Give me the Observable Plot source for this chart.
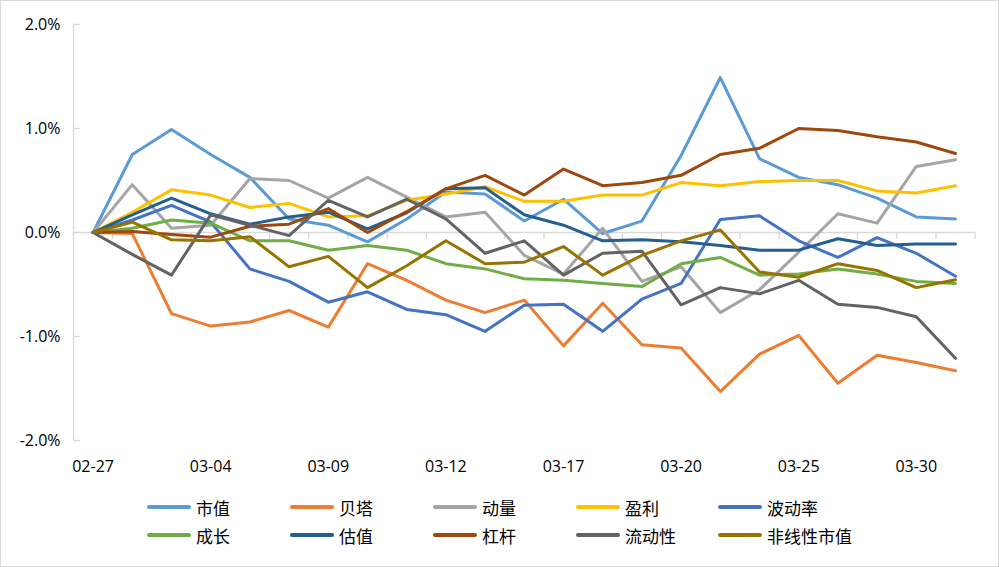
<!DOCTYPE html>
<html>
<head>
<meta charset="utf-8">
<script src="https://cdn.jsdelivr.net/npm/d3@7"></script>
<script src="https://cdn.jsdelivr.net/npm/@observablehq/plot@0.6"></script>
<style>
  html, body { margin: 0; padding: 0; background: #fff; }
  #wrap { position: relative; width: 999px; height: 567px; overflow: hidden; font-family: "Open Sans", "Noto Sans CJK SC", sans-serif; }
  #frame { position: absolute; left: 0; top: 0; width: 999px; height: 567px; box-sizing: border-box; border: 1px solid #D9D9D9; pointer-events: none; }
  #chart { position: absolute; left: 0; top: 0; }
  .item { position: absolute; display: flex; align-items: center; font-size: 17px; color: #000; font-family: "Noto Sans CJK SC", sans-serif; white-space: nowrap; }
  .sw { width: 44px; height: 4px; border-radius: 2px; margin-right: 5px; }
</style>
</head>
<body>
<div id="wrap"><div id="chart"></div><div id="legend"></div><div id="frame"></div></div>
<script>
const dates = ["02-27","03-02","03-03","03-04","03-05","03-06","03-09","03-10","03-11","03-12","03-13","03-16","03-17","03-18","03-19","03-20","03-23","03-24","03-25","03-26","03-27","03-30","03-31"];
const labelIdx = [0, 3, 6, 9, 12, 15, 18, 21];
const yTicks = [-0.02, -0.01, 0, 0.01, 0.02];
const names = ["市值","贝塔","动量","盈利","波动率","成长","估值","杠杆","流动性","非线性市值"];
const colors = ["#5B9BD5","#ED7D31","#A5A5A5","#FFC000","#4472C4","#70AD47","#255E91","#9E480E","#636363","#997300"];

// values in percent
const shizhi     = [0, 0.75, 0.99, 0.75, 0.53, 0.13, 0.07, -0.09, 0.13, 0.39, 0.37, 0.11, 0.32, -0.01, 0.11, 0.74, 1.49, 0.71, 0.53, 0.46, 0.33, 0.15, 0.13];
const beta       = [0, -0.01, -0.78, -0.90, -0.86, -0.75, -0.91, -0.30, -0.46, -0.65, -0.77, -0.65, -1.09, -0.68, -1.08, -1.11, -1.53, -1.17, -0.99, -1.45, -1.18, -1.25, -1.33];
const dongliang  = [0, 0.46, 0.04, 0.07, 0.52, 0.50, 0.33, 0.53, 0.34, 0.15, 0.195, -0.22, -0.40, 0.04, -0.47, -0.33, -0.77, -0.55, -0.19, 0.18, 0.09, 0.635, 0.70];
const yingli     = [0, 0.195, 0.41, 0.36, 0.24, 0.28, 0.15, 0.16, 0.31, 0.37, 0.44, 0.30, 0.30, 0.36, 0.36, 0.48, 0.45, 0.49, 0.50, 0.50, 0.40, 0.38, 0.45];
const bodonglv   = [0, 0.12, 0.26, 0.10, -0.35, -0.47, -0.67, -0.57, -0.74, -0.79, -0.95, -0.70, -0.69, -0.95, -0.64, -0.49, 0.125, 0.16, -0.08, -0.24, -0.05, -0.20, -0.42];
const chengzhang = [0, 0.04, 0.12, 0.09, -0.08, -0.08, -0.17, -0.125, -0.17, -0.30, -0.35, -0.445, -0.46, -0.49, -0.52, -0.30, -0.24, -0.41, -0.40, -0.35, -0.40, -0.47, -0.49];
const guzhi      = [0, 0.17, 0.33, 0.18, 0.08, 0.15, 0.195, 0.035, 0.19, 0.42, 0.43, 0.17, 0.07, -0.08, -0.07, -0.09, -0.125, -0.17, -0.17, -0.06, -0.125, -0.11, -0.11];
const gangan     = [0, 0.01, -0.02, -0.045, 0.06, 0.08, 0.23, 0.0, 0.20, 0.42, 0.55, 0.36, 0.61, 0.45, 0.48, 0.55, 0.75, 0.81, 1.00, 0.98, 0.92, 0.87, 0.76];
const liudong    = [0, -0.21, -0.41, 0.17, 0.07, -0.03, 0.31, 0.15, 0.32, 0.13, -0.20, -0.08, -0.41, -0.20, -0.18, -0.695, -0.53, -0.59, -0.46, -0.69, -0.72, -0.81, -1.21];
const feixian    = [0, 0.10, -0.07, -0.08, -0.04, -0.33, -0.23, -0.53, -0.32, -0.08, -0.30, -0.285, -0.135, -0.41, -0.22, -0.08, 0.025, -0.38, -0.43, -0.30, -0.365, -0.53, -0.455];

const seriesValues = [shizhi, beta, dongliang, yingli, bodonglv, chengzhang, guzhi, gangan, liudong, feixian];

const data = [];
seriesValues.forEach((vals, s) => vals.forEach((v, i) => data.push({i, name: names[s], v: v / 100})));
const bounds = d3.range(dates.length + 1).map(k => k - 0.5);

const W = 999, H = 490, ML = 73, MR = 24.4;
const plot = Plot.plot({
  width: W, height: H,
  marginLeft: ML, marginRight: MR, marginTop: 24, marginBottom: 50,
  x: {type: "linear", domain: [-0.5, dates.length - 0.5]},
  y: {domain: [-0.02, 0.02]},
  color: {domain: names, range: colors},
  style: {fontFamily: '"Open Sans", "Noto Sans CJK SC", sans-serif', fontSize: "16px", color: "#000", background: "transparent"},
  marks: [
    Plot.ruleX([-0.5], {stroke: "#D9D9D9", strokeWidth: 1.3}),
    Plot.ruleY(yTicks, {y: d => d, stroke: "#D9D9D9", strokeWidth: 1.3, insetRight: (W - ML - MR) - 7}),
    Plot.ruleY([0], {stroke: "#D9D9D9", strokeWidth: 1.3}),
    Plot.ruleX(bounds, {x: d => d, y1: 0, y2: 0, insetBottom: -7, stroke: "#D9D9D9", strokeWidth: 1.3}),
    Plot.axisY({ticks: yTicks, tickSize: 0, tickPadding: 13, tickFormat: d => (d * 100).toFixed(1) + "%", label: null, fontSize: 16}),
    Plot.axisX({ticks: labelIdx, tickSize: 0, tickPadding: 20, tickFormat: i => dates[i], label: null, fontSize: 16}),
    Plot.line(data, {x: "i", y: "v", z: "name", stroke: "name", strokeWidth: 3, strokeLinejoin: "round", strokeLinecap: "round"})
  ]
});
document.getElementById("chart").appendChild(plot);

const legend = document.getElementById("legend");
const legX = [147, 290, 433, 576, 718];
const legY = [507, 535];
names.forEach((n, k) => {
  const el = document.createElement("div");
  el.className = "item";
  el.style.left = legX[k % 5] + "px";
  el.style.top = (legY[Math.floor(k / 5)] - 13) + "px";
  el.style.height = "26px";
  const sw = document.createElement("span");
  sw.className = "sw";
  sw.style.background = colors[k];
  const t = document.createElement("span");
  t.textContent = n;
  el.appendChild(sw); el.appendChild(t);
  legend.appendChild(el);
});
</script>
</body>
</html>
